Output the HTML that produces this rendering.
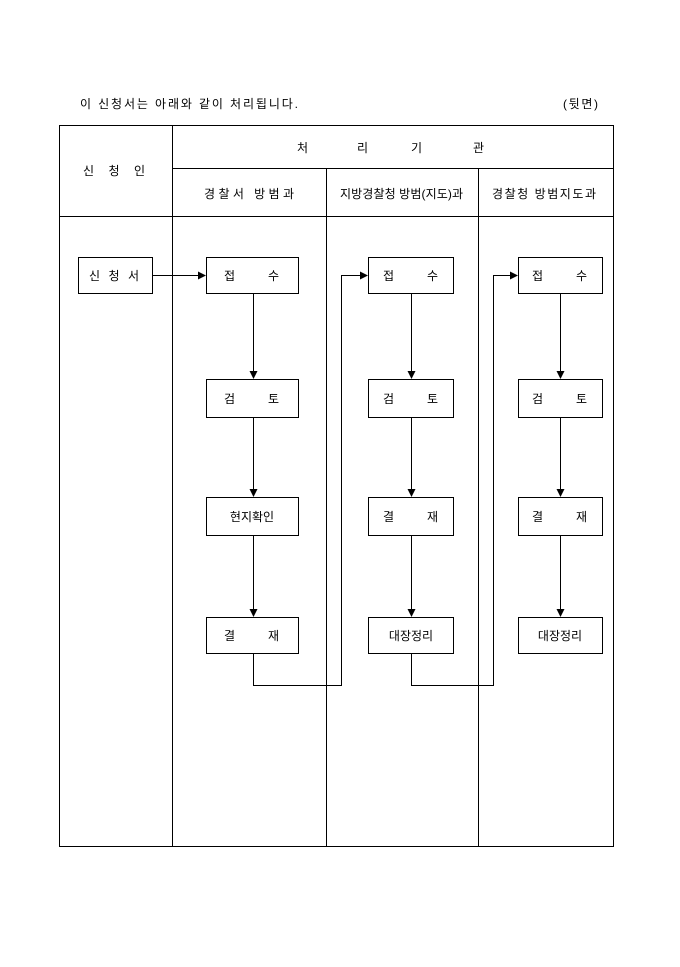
<!DOCTYPE html>
<html><head><meta charset="utf-8"><style>
html,body{margin:0;padding:0;background:#fff;}
svg text{font-family:"Liberation Sans","Noto Sans CJK KR",sans-serif;font-size:12px;fill:#000;}
</style></head><body>
<svg width="680" height="962" viewBox="0 0 680 962" xmlns="http://www.w3.org/2000/svg">
<defs><marker id="a" markerWidth="8" markerHeight="8" refX="7" refY="4" orient="auto" markerUnits="userSpaceOnUse"><path d="M0,0 L8,4 L0,8 z" fill="#000"/></marker></defs>
<text x="80" y="108" textLength="218" lengthAdjust="spacing">이 신청서는 아래와 같이 처리됩니다.</text>
<text x="563" y="108" textLength="35" lengthAdjust="spacing">(뒷면)</text>
<g stroke="#000" stroke-width="1" fill="none">
<rect x="59.5" y="125.5" width="554" height="721"/>
<line x1="172.5" y1="125" x2="172.5" y2="846"/>
<line x1="172" y1="168.5" x2="613" y2="168.5"/>
<line x1="59" y1="216.5" x2="613" y2="216.5"/>
<line x1="326.5" y1="168" x2="326.5" y2="846"/>
<line x1="478.5" y1="168" x2="478.5" y2="846"/>
<rect x="78.5" y="257.5" width="74" height="36"/>
<rect x="206.5" y="257.5" width="92" height="36"/>
<rect x="206.5" y="379.5" width="92" height="38"/>
<rect x="206.5" y="497.5" width="92" height="38"/>
<rect x="206.5" y="617.5" width="92" height="36"/>
<rect x="368.5" y="257.5" width="85" height="36"/>
<rect x="368.5" y="379.5" width="85" height="38"/>
<rect x="368.5" y="497.5" width="85" height="38"/>
<rect x="368.5" y="617.5" width="85" height="36"/>
<rect x="518.5" y="257.5" width="84" height="36"/>
<rect x="518.5" y="379.5" width="84" height="38"/>
<rect x="518.5" y="497.5" width="84" height="38"/>
<rect x="518.5" y="617.5" width="84" height="36"/>
<line x1="152" y1="275.5" x2="205" y2="275.5" marker-end="url(#a)"/>
<line x1="253.5" y1="293" x2="253.5" y2="378" marker-end="url(#a)"/>
<line x1="253.5" y1="417" x2="253.5" y2="496" marker-end="url(#a)"/>
<line x1="253.5" y1="535" x2="253.5" y2="616" marker-end="url(#a)"/>
<line x1="411.5" y1="293" x2="411.5" y2="378" marker-end="url(#a)"/>
<line x1="411.5" y1="417" x2="411.5" y2="496" marker-end="url(#a)"/>
<line x1="411.5" y1="535" x2="411.5" y2="616" marker-end="url(#a)"/>
<line x1="560.5" y1="293" x2="560.5" y2="378" marker-end="url(#a)"/>
<line x1="560.5" y1="417" x2="560.5" y2="496" marker-end="url(#a)"/>
<line x1="560.5" y1="535" x2="560.5" y2="616" marker-end="url(#a)"/>
<polyline points="253.5,653 253.5,685.5 341.5,685.5 341.5,275.5 367,275.5" marker-end="url(#a)"/>
<polyline points="411.5,653 411.5,685.5 493.5,685.5 493.5,275.5 517,275.5" marker-end="url(#a)"/>
</g>
<text x="83" y="175" textLength="62" lengthAdjust="spacing">신 청 인</text>
<text x="297" y="152">처</text><text x="357" y="152">리</text><text x="411" y="152">기</text><text x="473" y="152">관</text>
<text x="204" y="198" textLength="90" lengthAdjust="spacing">경찰서  방범과</text>
<text x="340" y="198" textLength="123" lengthAdjust="spacing">지방경찰청 방범(지도)과</text>
<text x="492" y="198" textLength="104" lengthAdjust="spacing">경찰청 방범지도과</text>
<text x="89" y="280" textLength="50" lengthAdjust="spacing">신 청 서</text>
<text x="224" y="280">접</text><text x="268" y="280">수</text>
<text x="224" y="403">검</text><text x="268" y="403">토</text>
<text x="252" y="521" text-anchor="middle">현지확인</text>
<text x="224" y="640">결</text><text x="268" y="640">재</text>
<text x="383" y="280">접</text><text x="427" y="280">수</text>
<text x="383" y="403">검</text><text x="427" y="403">토</text>
<text x="383" y="521">결</text><text x="427" y="521">재</text>
<text x="411" y="640" text-anchor="middle">대장정리</text>
<text x="532" y="280">접</text><text x="576" y="280">수</text>
<text x="532" y="403">검</text><text x="576" y="403">토</text>
<text x="532" y="521">결</text><text x="576" y="521">재</text>
<text x="560" y="640" text-anchor="middle">대장정리</text>
</svg>
</body></html>
